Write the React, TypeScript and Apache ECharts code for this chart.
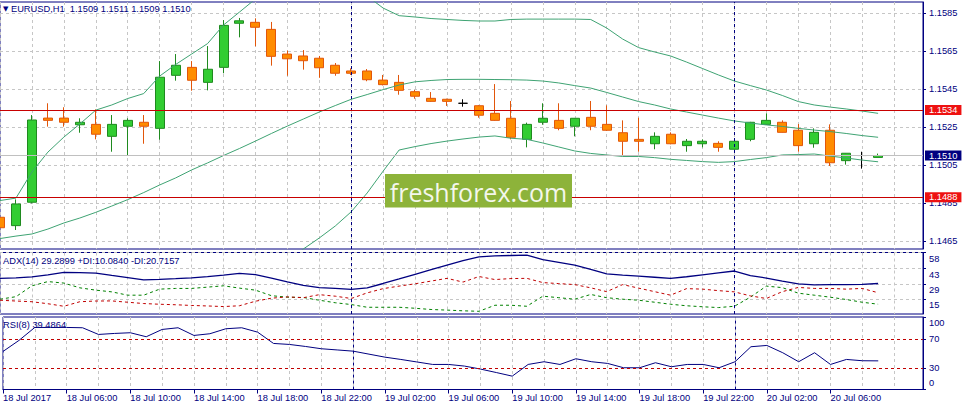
import React, { useEffect, useRef } from "react";
import * as echarts from "echarts";

// Bars: hours counted from 18 Jul 2017 00:00 (H1)
const HOURS = [
  2, 3, 4, 5, 6, 7, 8, 9,
  10, 11, 12, 13, 14, 15, 16, 17,
  18, 19, 20, 21, 22, 23, 24, 25,
  26, 27, 28, 29, 30, 31, 32, 33,
  34, 35, 36, 37, 38, 39, 40, 41,
  42, 43, 44, 45, 46, 47, 48, 49,
  50, 51, 52, 53, 54, 55, 56, 57,
];

const OPEN = [
  1.14775, 1.14731, 1.14854, 1.15297, 1.15297, 1.15262, 1.15264, 1.15201,
  1.15254, 1.15275, 1.15243, 1.15522, 1.15564, 1.15485, 1.15564, 1.15796,
  1.15801, 1.15764, 1.15634, 1.15624, 1.15612, 1.15575, 1.15545, 1.15545,
  1.15497, 1.15485, 1.15436, 1.15401, 1.15396, 1.15375, 1.15362, 1.15322,
  1.15296, 1.15185, 1.15275, 1.15285, 1.15254, 1.15301, 1.15264, 1.1522,
  1.15185, 1.15162, 1.15212, 1.15152, 1.15162, 1.15164, 1.15133, 1.15185,
  1.15264, 1.15275, 1.15233, 1.15162, 1.15233, 1.15073, 1.151, 1.1509,
];
const HIGH = [
  1.14787, 1.14869, 1.15313, 1.15375, 1.15354, 1.15296, 1.15343, 1.15313,
  1.15296, 1.15313, 1.15597, 1.15634, 1.15597, 1.15676, 1.15813, 1.15824,
  1.15822, 1.15803, 1.15652, 1.15655, 1.15624, 1.15587, 1.15559, 1.15555,
  1.15524, 1.15524, 1.15445, 1.15434, 1.15399, 1.15396, 1.15366, 1.15476,
  1.15387, 1.15273, 1.15375, 1.15375, 1.15297, 1.15387, 1.15364, 1.15285,
  1.15299, 1.15222, 1.15222, 1.15187, 1.15185, 1.15175, 1.15177, 1.15277,
  1.15322, 1.15285, 1.15266, 1.15243, 1.15264, 1.15113, 1.1512, 1.1511,
];
const LOW = [
  1.14708, 1.14708, 1.14848, 1.15252, 1.15252, 1.1522, 1.15185, 1.1512,
  1.15099, 1.15162, 1.15183, 1.15494, 1.15441, 1.15443, 1.15533, 1.15722,
  1.15675, 1.15573, 1.1552, 1.15552, 1.15509, 1.1552, 1.15524, 1.15491,
  1.15469, 1.1542, 1.15399, 1.15383, 1.15361, 1.15357, 1.15299, 1.15283,
  1.15185, 1.15143, 1.15262, 1.15233, 1.15201, 1.15233, 1.15229, 1.15099,
  1.1512, 1.15133, 1.15159, 1.1512, 1.15143, 1.1512, 1.15125, 1.15175,
  1.15263, 1.15221, 1.1512, 1.15141, 1.15045, 1.15052, 1.15031, 1.1509,
];
const CLOSE = [
  1.1472, 1.14845, 1.15287, 1.15285, 1.15275, 1.15275, 1.15212, 1.15264,
  1.15285, 1.15254, 1.15512, 1.15575, 1.15496, 1.15554, 1.15785, 1.15809,
  1.15775, 1.15622, 1.15609, 1.15599, 1.15562, 1.15533, 1.15533, 1.15499,
  1.15473, 1.15443, 1.15412, 1.15385, 1.15385, 1.15375, 1.15312, 1.15285,
  1.15196, 1.15264, 1.15296, 1.15243, 1.15296, 1.15254, 1.15233, 1.15175,
  1.15175, 1.15201, 1.15162, 1.15175, 1.15175, 1.15143, 1.15175, 1.15275,
  1.15285, 1.15222, 1.15152, 1.15222, 1.15062, 1.15112, 1.151, 1.151,
];

// Bollinger Bands
const BB_UPPER = [
  1.14863, 1.14876, 1.15013, 1.15118, 1.15197, 1.15266, 1.15339, 1.15366,
  1.154, 1.15426, 1.15518, 1.15579, 1.15634, 1.15689, 1.15787, 1.15855,
  1.15924, 1.1595, 1.15966, 1.15976, 1.15982, 1.15987, 1.15987, 1.15939,
  1.15876, 1.15836, 1.15829, 1.15821, 1.15816, 1.15811, 1.15808, 1.15808,
  1.15816, 1.15818, 1.15818, 1.15818, 1.15818, 1.15816, 1.15771, 1.15713,
  1.15668, 1.15645, 1.15624, 1.15592, 1.15558, 1.15524, 1.15492, 1.15468,
  1.15445, 1.15416, 1.15384, 1.15366, 1.15355, 1.15345, 1.15334, 1.15322,
];
const BB_MIDDLE = [
  1.14663, 1.14676, 1.14687, 1.14713, 1.14745, 1.14771, 1.14801, 1.14834,
  1.14868, 1.14905, 1.14945, 1.14982, 1.15024, 1.15061, 1.151, 1.15137,
  1.15176, 1.15216, 1.15255, 1.15292, 1.15329, 1.15363, 1.15396, 1.15421,
  1.15447, 1.15471, 1.15488, 1.15495, 1.155, 1.15501, 1.15501, 1.155,
  1.15499, 1.15497, 1.15492, 1.15482, 1.15468, 1.15455, 1.15432, 1.15408,
  1.15384, 1.15366, 1.15345, 1.15329, 1.15313, 1.15297, 1.15282, 1.15271,
  1.15261, 1.15253, 1.15243, 1.15234, 1.15226, 1.15216, 1.15205, 1.15196,
];
const BB_LOWER = [
  1.14463, 1.14476, 1.14361, 1.14308, 1.14292, 1.14276, 1.14263, 1.14303,
  1.14337, 1.14384, 1.14371, 1.14384, 1.14413, 1.14432, 1.14413, 1.14418,
  1.14429, 1.14487, 1.14555, 1.14608, 1.14666, 1.14729, 1.14804, 1.14903,
  1.15018, 1.15129, 1.15147, 1.15163, 1.15176, 1.15187, 1.15197, 1.15203,
  1.15191, 1.15185, 1.15166, 1.15145, 1.15124, 1.15111, 1.15103, 1.15095,
  1.15095, 1.15089, 1.1508, 1.15074, 1.15068, 1.15064, 1.15068, 1.15079,
  1.15089, 1.15103, 1.15105, 1.15108, 1.15097, 1.15087, 1.15076, 1.15067,
];

// ADX(14)
const ADX = [
  33.94, 34.5, 35.34, 37.3, 39.55, 39.36, 38.8, 36.74,
  34.78, 32.54, 33.1, 33.76, 34.5, 35.72, 37.12, 38.61,
  37.4, 34.32, 30.77, 27.5, 25.45, 24.7, 23.77, 25.26,
  29.27, 33.48, 37.77, 42.07, 46.36, 50.38, 53.92, 54.86,
  55.23, 55.6, 51.31, 48.79, 46.36, 42.25, 38.24, 37.12,
  36.09, 35.06, 34.04, 35.53, 37.3, 39.08, 40.85, 36.65,
  34.32, 31.52, 28.9, 28.0, 28.2, 28.3, 28.4, 29.29,
];
const PLUS_DI = [
  14.71, 17.04, 27.13, 31.05, 29.65, 25.26, 23.11, 21.52,
  18.44, 18.44, 24.05, 24.7, 24.7, 25.91, 27.13, 24.98,
  23.11, 17.98, 16.58, 16.3, 13.77, 11.44, 9.76, 7.24,
  7.24, 7.24, 6.31, 5.18, 4.62, 3.97, 3.5, 9.11,
  9.11, 8.17, 17.51, 16.11, 14.71, 19.1, 16.11, 14.71,
  13.77, 11.91, 10.04, 8.64, 7.71, 6.96, 8.17, 16.58,
  26.85, 25.45, 20.31, 18.44, 16.58, 14.43, 11.91, 10.08,
];
const MINUS_DI = [
  13.77, 13.03, 12.37, 10.51, 8.17, 12.37, 13.03, 13.12,
  11.91, 10.69, 10.04, 9.57, 8.92, 8.45, 7.89, 8.64,
  12.84, 15.64, 16.86, 16.11, 18.91, 17.51, 15.36, 20.59,
  24.51, 26.85, 28.99, 31.52, 34.04, 30.58, 35.72, 32.92,
  33.85, 34.04, 30.11, 29.18, 28.25, 25.26, 21.71, 28.25,
  24.98, 21.71, 18.44, 24.51, 24.05, 22.65, 21.52, 17.79,
  15.36, 21.71, 25.63, 24.7, 24.7, 24.05, 24.7, 20.72,
];

// RSI(8)
const RSI = [
  52.48, 67.66, 85.59, 85.59, 85.59, 85.17, 75.93, 77.31,
  78.28, 72.76, 82.83, 85.17, 74.55, 76.9, 83.79, 85.17,
  79.1, 63.52, 62.14, 59.38, 56.21, 54.55, 52.9, 48.76,
  44.62, 41.45, 38.0, 34.55, 34.55, 32.3, 28.2, 23.4,
  18.41, 34.55, 38.28, 34.55, 42.41, 38.28, 35.93, 30.0,
  30.0, 36.9, 31.38, 34.55, 34.55, 30.0, 38.28, 58.97,
  60.76, 50.69, 38.28, 50.69, 34.55, 41.45, 39.66, 39.49,
];

const PRICE_TICKS = [1.1465, 1.1485, 1.1505, 1.1525, 1.1545, 1.1565, 1.1585];
const ADX_TICKS = [15, 29, 43, 58];
const RSI_TICKS = [0, 30, 70, 100];
const RSI_LEVELS = [30, 70];
const LEVELS = [1.1534, 1.1488];
const CURRENT_PRICE = 1.151;
const DAY_SEPARATORS = [24, 48];

const TIME_TICK_HOURS = [2, 6, 10, 14, 18, 22, 26, 30, 34, 38, 42, 46, 50, 54];
const TIME_TICK_LABELS = [
  "18 Jul 2017", "18 Jul 06:00", "18 Jul 10:00", "18 Jul 14:00",
  "18 Jul 18:00", "18 Jul 22:00", "19 Jul 02:00", "19 Jul 06:00",
  "19 Jul 10:00", "19 Jul 14:00", "19 Jul 18:00", "19 Jul 22:00",
  "20 Jul 02:00", "20 Jul 06:00",
];

const TITLE_MAIN = "EURUSD,H1  1.1509 1.1511 1.1509 1.1510";
const TITLE_ADX = "ADX(14) 29.2899 +DI:10.0840 -DI:20.7157";
const TITLE_RSI = "RSI(8) 39.4864";
const WATERMARK = "freshforex.com";

const NAVY = "#000080";
const GRIDC = "#c6c6c6";
const FONT = '"Liberation Sans", Arial, sans-serif';
const FS = 9.3;

const X_MIN = 2;
const X_MAX = 59.8125;

function pairs(vals: number[]) {
  return HOURS.map((h, i) => [h, vals[i]]);
}

export default function App() {
  const ref = useRef<HTMLDivElement>(null);

  useEffect(() => {
    if (!ref.current) return;
    const chart = echarts.init(ref.current, null, { renderer: "svg" });

    const sepStyle = { color: NAVY, type: [3, 3], width: 1 };
    const baseX = (gridIndex: number, position: string) => ({
      type: "value",
      gridIndex,
      position,
      min: X_MIN,
      max: X_MAX,
      interval: 2,
      axisLine: { show: false },
      axisTick: { show: false },
      axisLabel: { show: false },
      splitLine: { show: true, lineStyle: { color: GRIDC, type: [3, 3], width: 1 } },
    });

    const candleData = HOURS.map((h, i) => {
      const v = [h, OPEN[i], CLOSE[i], LOW[i], HIGH[i]];
      if (OPEN[i] === CLOSE[i]) {
        return {
          value: v,
          itemStyle: { color: "#000", color0: "#000", borderColor: "#000", borderColor0: "#000" },
        };
      }
      return v;
    });

    const priceLabel = (bg: string) => ({
      show: true,
      position: "end",
      distance: 2,
      formatter: (p: any) => Number(p.value).toFixed(4),
      color: "#fff",
      backgroundColor: bg,
      fontSize: FS,
      fontFamily: FONT,
      padding: [1, 4, 0, 4],
    });

    const option: any = {
      animation: false,
      backgroundColor: "#fff",
      title: [
        {
          text: "{t|▼} " + TITLE_MAIN,
          left: 3,
          top: 4,
          padding: 0,
          textStyle: {
            fontSize: FS,
            fontWeight: "normal",
            color: NAVY,
            fontFamily: FONT,
            rich: { t: { fontSize: 7, fontFamily: "DejaVu Sans", color: NAVY } },
          },
        },
        {
          text: TITLE_ADX,
          left: 3,
          top: 256,
          padding: 0,
          textStyle: { fontSize: FS, fontWeight: "normal", color: NAVY, fontFamily: FONT },
        },
        {
          text: TITLE_RSI,
          left: 3,
          top: 320.5,
          padding: 0,
          textStyle: { fontSize: FS, fontWeight: "normal", color: NAVY, fontFamily: FONT },
        },
      ],
      grid: [
        { left: -2, top: 2, width: 925, height: 247, show: true, borderColor: NAVY, borderWidth: 1 },
        { left: -2, top: 252.5, width: 925, height: 61.5, show: true, borderColor: NAVY, borderWidth: 1 },
        { left: -2, top: 317, width: 925, height: 72.5, show: true, borderColor: NAVY, borderWidth: 1 },
      ],
      xAxis: [
        baseX(0, "bottom"),
        baseX(1, "bottom"),
        baseX(2, "top"),
        {
          type: "value",
          gridIndex: 2,
          position: "bottom",
          min: X_MIN,
          max: X_MAX,
          axisLine: { show: true, lineStyle: { color: NAVY, width: 1 } },
          axisTick: { show: true, customValues: TIME_TICK_HOURS, length: 4, lineStyle: { color: NAVY } },
          axisLabel: {
            show: true,
            customValues: TIME_TICK_HOURS,
            formatter: (v: number) => {
              const i = TIME_TICK_HOURS.indexOf(Math.round(v));
              return i >= 0 ? TIME_TICK_LABELS[i] : "";
            },
            align: "left",
            margin: 4,
            color: NAVY,
            fontSize: FS,
            fontFamily: FONT,
          },
          splitLine: { show: false },
        },
      ],
      yAxis: [
        {
          type: "value",
          gridIndex: 0,
          position: "right",
          min: 1.14608,
          max: 1.15908,
          axisLine: { show: true, lineStyle: { color: NAVY } },
          axisTick: { show: true, customValues: PRICE_TICKS, length: 3, lineStyle: { color: NAVY } },
          axisLabel: {
            customValues: PRICE_TICKS,
            formatter: (v: number) => v.toFixed(4),
            margin: 6,
            color: NAVY,
            fontSize: FS,
            fontFamily: FONT,
          },
          splitLine: { show: true, lineStyle: { color: GRIDC, type: [3, 3], width: 1 } },
        },
        {
          type: "value",
          gridIndex: 1,
          position: "right",
          min: 1,
          max: 58,
          axisLine: { show: true, lineStyle: { color: NAVY } },
          axisTick: { show: true, customValues: ADX_TICKS, length: 3, lineStyle: { color: NAVY } },
          axisLabel: {
            customValues: ADX_TICKS,
            formatter: (v: number) => String(Math.round(v)),
            margin: 6,
            verticalAlign: "top",
            padding: [2, 0, 0, 0],
            color: NAVY,
            fontSize: FS,
            fontFamily: FONT,
          },
          splitLine: { show: true, lineStyle: { color: GRIDC, type: [3, 3], width: 1 } },
        },
        {
          type: "value",
          gridIndex: 2,
          position: "right",
          min: 0,
          max: 100,
          axisLine: { show: true, lineStyle: { color: NAVY } },
          axisTick: { show: true, customValues: RSI_TICKS, length: 3, lineStyle: { color: NAVY } },
          axisLabel: {
            customValues: RSI_TICKS,
            formatter: (v: number) => {
              const r = Math.round(v);
              if (r === 100) return "{hi|100}";
              if (r === 0) return "{lo|0}";
              return String(r);
            },
            margin: 6,
            color: NAVY,
            fontSize: FS,
            fontFamily: FONT,
            rich: {
              hi: { padding: [12, 0, 0, 0], color: NAVY, fontSize: FS, fontFamily: FONT },
              lo: { padding: [0, 0, 14, 0], color: NAVY, fontSize: FS, fontFamily: FONT },
            },
          },
          splitLine: { show: false },
        },
      ],
      series: [
        {
          type: "candlestick",
          xAxisIndex: 0,
          yAxisIndex: 0,
          barWidth: 9.5,
          data: candleData,
          itemStyle: {
            color: "#32cd32",
            color0: "#ff8c00",
            borderColor: "#1f8a1f",
            borderColor0: "#e2560a",
            borderWidth: 1,
          },
          markLine: {
            symbol: ["none", "none"],
            silent: true,
            animation: false,
            precision: 5,
            label: { show: false },
            data: [
              ...DAY_SEPARATORS.map((x) => ({ xAxis: x, lineStyle: sepStyle, label: { show: false } })),
              {
                yAxis: CURRENT_PRICE,
                lineStyle: { color: "#c0c0c0", type: "solid", width: 1 },
                label: priceLabel(NAVY),
              },
              ...LEVELS.map((y) => ({
                yAxis: y,
                lineStyle: { color: "#c80000", type: "solid", width: 1 },
                label: priceLabel("#ee1111"),
              })),
            ],
          },
        },
        ...[BB_UPPER, BB_MIDDLE, BB_LOWER].map((vals) => ({
          type: "line",
          xAxisIndex: 0,
          yAxisIndex: 0,
          data: pairs(vals),
          symbol: "none",
          lineStyle: { color: "#3fa373", width: 1 },
        })),
        {
          type: "line",
          xAxisIndex: 1,
          yAxisIndex: 1,
          data: pairs(ADX),
          symbol: "none",
          lineStyle: { color: NAVY, width: 1.3 },
          markLine: {
            symbol: ["none", "none"],
            silent: true,
            precision: 4,
            label: { show: false },
            data: DAY_SEPARATORS.map((x) => ({ xAxis: x, lineStyle: sepStyle })),
          },
        },
        {
          type: "line",
          xAxisIndex: 1,
          yAxisIndex: 1,
          data: pairs(PLUS_DI),
          symbol: "none",
          lineStyle: { color: "#008000", width: 1, type: [3, 3] },
        },
        {
          type: "line",
          xAxisIndex: 1,
          yAxisIndex: 1,
          data: pairs(MINUS_DI),
          symbol: "none",
          lineStyle: { color: "#c00000", width: 1, type: [3, 3] },
        },
        {
          type: "line",
          xAxisIndex: 2,
          yAxisIndex: 2,
          data: pairs(RSI),
          symbol: "none",
          lineStyle: { color: NAVY, width: 1 },
          markLine: {
            symbol: ["none", "none"],
            silent: true,
            precision: 4,
            label: { show: false },
            data: [
              ...DAY_SEPARATORS.map((x) => ({ xAxis: x, lineStyle: sepStyle })),
              ...RSI_LEVELS.map((y) => ({ yAxis: y, lineStyle: { color: "#c00000", type: [3, 3], width: 1 } })),
            ],
          },
        },
      ],
      graphic: [
        {
          type: "group",
          z: 100,
          children: [
            {
              type: "rect",
              z: 100,
              shape: { x: 385, y: 174, width: 187, height: 33.5 },
              style: { fill: "#8db33a" },
            },
            {
              type: "text",
              z: 101,
              style: {
                text: WATERMARK,
                x: 478.5,
                y: 191.5,
                fill: "#f4f7ec",
                font: '25px "Open Sans"',
                align: "center",
                verticalAlign: "middle",
                textAlign: "center",
                textVerticalAlign: "middle",
              },
            },
          ],
        },
      ],
    };

    chart.setOption(option);
    return () => chart.dispose();
  }, []);

  return (
    <div
      ref={ref}
      style={{ position: "absolute", left: 0, top: 0, width: 965, height: 409, background: "#fff" }}
    />
  );
}
